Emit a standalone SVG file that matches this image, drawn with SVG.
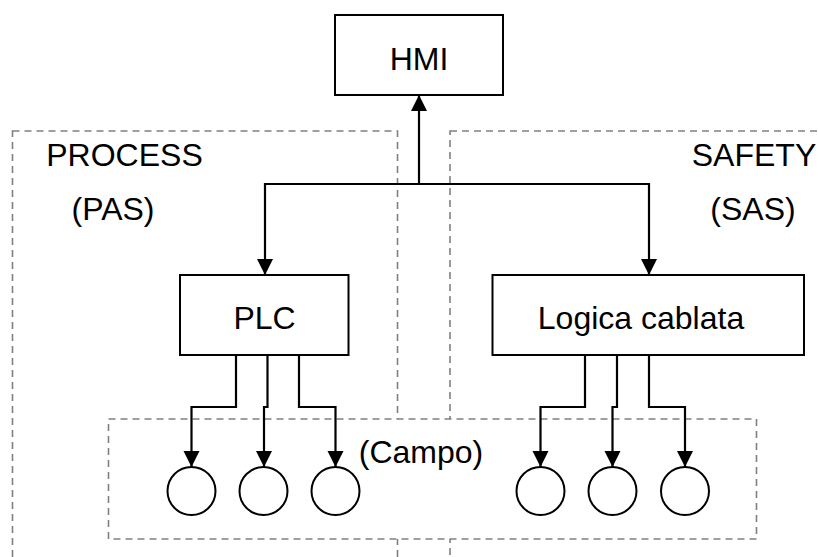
<svg xmlns="http://www.w3.org/2000/svg" width="818" height="557" viewBox="0 0 818 557">
<style>
.zone{fill:none;stroke:#808080;stroke-width:1.6;stroke-dasharray:7 5}
.zonef{fill:#ffffff;stroke:#808080;stroke-width:1.6;stroke-dasharray:7 5}
.box{fill:#ffffff;stroke:#000000;stroke-width:2}
.dev{fill:#ffffff;stroke:#000000;stroke-width:2}
.lbl{font-family:"Liberation Sans",Arial,sans-serif;font-size:32px;fill:#000000;text-anchor:middle}
.con{fill:none;stroke:#000000;stroke-width:2.2;marker-end:url(#ah)}
.con0{fill:none;stroke:#000000;stroke-width:2.2}
</style>
<defs>
<marker id="ah" markerUnits="userSpaceOnUse" markerWidth="16" markerHeight="18" refX="16" refY="8" orient="auto">
<path d="M0,0 L16,8 L0,16 Z" fill="#000000"/>
</marker>
</defs>
<rect width="818" height="557" fill="#ffffff"/>
<g id="zone-process">
<rect class="zone" x="12.5" y="131" width="385" height="500"/>
<text class="lbl" x="124.5" y="166">PROCESS</text>
<text class="lbl" x="113" y="220">(PAS)</text>
</g>
<g id="zone-safety">
<rect class="zone" x="450" y="131" width="420" height="500"/>
<text class="lbl" x="754" y="166">SAFETY</text>
<text class="lbl" x="753" y="220">(SAS)</text>
</g>
<g id="zone-campo">
<rect class="zonef" x="108.5" y="419" width="648" height="120"/>
<text class="lbl" x="421" y="463">(Campo)</text>
</g>
<g id="hmi">
<rect class="box" x="335" y="15" width="168" height="80"/>
<text class="lbl" x="419" y="70">HMI</text>
</g>
<g id="plc">
<rect class="box" x="180" y="275" width="168.5" height="80"/>
<text class="lbl" x="264.5" y="329">PLC</text>
</g>
<g id="logica">
<rect class="box" x="492.5" y="275" width="311.5" height="80"/>
<text class="lbl" x="641" y="329">Logica cablata</text>
</g>
<g id="devices">
<circle class="dev" cx="191.5" cy="491" r="24"/>
<circle class="dev" cx="263.5" cy="491" r="24"/>
<circle class="dev" cx="335.5" cy="491" r="24"/>
<circle class="dev" cx="540.5" cy="491" r="24"/>
<circle class="dev" cx="612.5" cy="491" r="24"/>
<circle class="dev" cx="685" cy="491" r="24"/>
</g>
<g id="connectors">
<path class="con" d="M419,184 V95"/>
<path class="con" d="M419,184 H265 V275"/>
<path class="con" d="M419,184 H649 V275"/>
<path class="con" d="M236,355 V407 H191.5 V467"/>
<path class="con" d="M267.5,355 V407 H264 V467"/>
<path class="con" d="M299,355 V407 H335.5 V467"/>
<path class="con" d="M585,355 V407 H540.5 V467"/>
<path class="con" d="M617,355 V407 H612.5 V467"/>
<path class="con" d="M649,355 V407 H685 V467"/>
</g>
</svg>
